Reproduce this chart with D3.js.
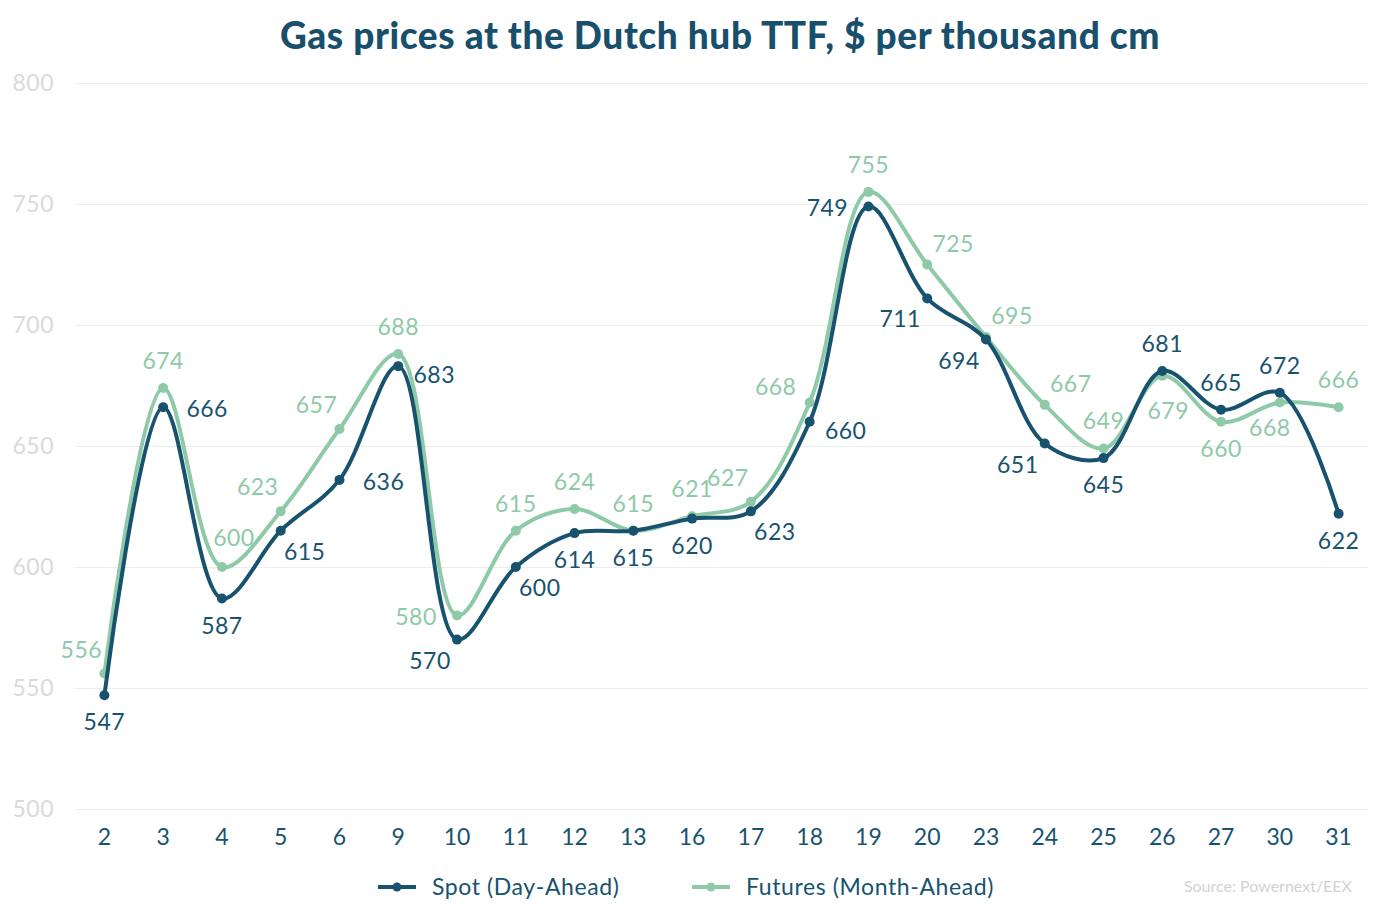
<!DOCTYPE html>
<html>
<head>
<meta charset="utf-8">
<script src="https://cdn.jsdelivr.net/npm/d3@7"></script>
<style>
  body { margin: 0; background: #fff; }
  svg { font-family: Lato, "Open Sans", sans-serif; }
</style>
</head>
<body>
<div id="chart"></div>
<script>
const days = ["2","3","4","5","6","9","10","11","12","13","16","17","18","19","20","23","24","25","26","27","30","31"];
const spot = [547,666,587,615,636,683,570,600,614,615,620,623,660,749,711,694,651,645,681,665,672,622];
const futures = [556,674,600,623,657,688,580,615,624,615,621,627,668,755,725,695,667,649,679,660,668,666];
const yTicks = [500,550,600,650,700,750,800];

// where each value label sits relative to its point
const spotLabelPos = ["b","r","b","br","r","rb","bl","br","b","b","b","br","rb","l","bl","bl","bl","b","t","t","t","b"];
const futLabelPos = ["tl","t","tr1","tl","tl","t","l","t","t","t","t","tl","lt","t","tr","tr","tr","t","b2","b","bl1","t"];

const width = 1390, height = 907;
const margin = {top: 83, right: 22, bottom: 98, left: 75};
const blue = "#17536f", green = "#8ecaa8";

const svg = d3.select("#chart").append("svg")
  .attr("width", width)
  .attr("height", height);

const x = d3.scaleBand()
  .domain(days)
  .range([margin.left, width - margin.right]);

const y = d3.scaleLinear()
  .domain([500, 800])
  .range([height - margin.bottom, margin.top]);

const cx = d => x(d) + x.bandwidth() / 2;

svg.append("text")
  .attr("x", 720)
  .attr("y", 49)
  .attr("text-anchor", "middle")
  .attr("font-size", 37)
  .attr("font-weight", 900)
  .attr("letter-spacing", 0.6)
  .attr("fill", "#174f6c")
  .text("Gas prices at the Dutch hub TTF, $ per thousand cm");

// grid
svg.append("g")
  .selectAll("line")
  .data(yTicks)
  .join("line")
    .attr("x1", margin.left)
    .attr("x2", width - margin.right)
    .attr("y1", d => y(d) + 0.5)
    .attr("y2", d => y(d) + 0.5)
    .attr("stroke", "#ececec")
    .attr("stroke-width", 1);

const yAxis = g => g
  .attr("transform", `translate(${margin.left - 21},0)`)
  .call(d3.axisLeft(y).tickValues(yTicks).tickSize(0).tickPadding(0))
  .call(g => g.select(".domain").remove())
  .call(g => g.selectAll("text")
    .attr("font-family", "Lato, sans-serif")
    .attr("font-size", 23)
    .attr("letter-spacing", 0.5)
    .attr("fill", "#dadada"));

const xAxis = g => g
  .attr("transform", `translate(0,${height - margin.bottom + 20})`)
  .call(d3.axisBottom(x).tickSize(0).tickPadding(0))
  .call(g => g.select(".domain").remove())
  .call(g => g.selectAll("text")
    .attr("dy", "0.71em")
    .attr("font-family", "Lato, sans-serif")
    .attr("font-size", 23)
    .attr("fill", blue));

svg.append("g").call(yAxis);
svg.append("g").call(xAxis);

const line = d3.line()
  .curve(d3.curveCatmullRom.alpha(0.5))
  .x((d, i) => cx(days[i]))
  .y(d => y(d));

const offsets = {
  t: [0, -27], b: [0, 27], l: [-41, 2], r: [44, 2],
  tl: [-23, -24], tr: [26, -21], bl: [-27, 21], br: [24, 21],
  rb: [36, 9], lt: [-34, -15], tr1: [12, -29], b2: [6, 35], bl1: [-10, 26]
};

const drawSeries = (vals, color) => {
  svg.append("path")
    .datum(vals)
    .attr("fill", "none")
    .attr("stroke", color)
    .attr("stroke-width", 4)
    .attr("stroke-linejoin", "round")
    .attr("d", line);

  svg.append("g")
    .selectAll("circle")
    .data(vals)
    .join("circle")
      .attr("cx", (d, i) => cx(days[i]))
      .attr("cy", d => y(d))
      .attr("r", 5)
      .attr("fill", color);
};

const drawLabels = (vals, color, pos) => {
  svg.append("g")
    .selectAll("text")
    .data(vals)
    .join("text")
      .attr("x", (d, i) => cx(days[i]) + offsets[pos[i]][0])
      .attr("y", (d, i) => y(d) + offsets[pos[i]][1])
      .attr("dy", "0.35em")
      .attr("text-anchor", "middle")
      .attr("font-size", 23)
      .attr("letter-spacing", 0.5)
      .attr("fill", color)
      .text(d => d);
};

drawSeries(futures, green);
drawSeries(spot, blue);
drawLabels(futures, green, futLabelPos);
drawLabels(spot, blue, spotLabelPos);

// legend
const legend = [
  {name: "Spot (Day-Ahead)", color: blue, x: 378},
  {name: "Futures (Month-Ahead)", color: green, x: 692}
];
const lg = svg.append("g").selectAll("g").data(legend).join("g")
  .attr("transform", d => `translate(${d.x},887)`);
lg.append("line")
  .attr("x1", 0).attr("x2", 38)
  .attr("stroke", d => d.color)
  .attr("stroke-width", 4);
lg.append("circle")
  .attr("cx", 19).attr("r", 4.5)
  .attr("fill", d => d.color);
lg.append("text")
  .attr("x", 54)
  .attr("dy", "0.35em")
  .attr("font-size", 23)
  .attr("letter-spacing", 0.6)
  .attr("fill", blue)
  .text(d => d.name);

svg.append("text")
  .attr("x", 1352)
  .attr("y", 886)
  .attr("dy", "0.35em")
  .attr("text-anchor", "end")
  .attr("font-size", 16)
  .attr("fill", "#d2d2d2")
  .text("Source: Powernext/EEX");
</script>
</body>
</html>
